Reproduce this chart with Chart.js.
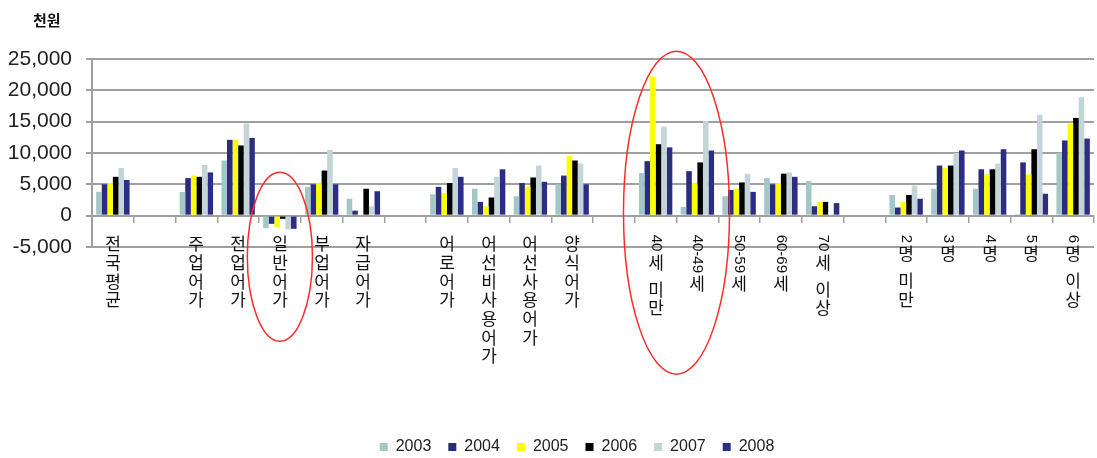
<!DOCTYPE html>
<html>
<head>
<meta charset="utf-8">
<title>어가소득 추이</title>
<script src="https://cdn.jsdelivr.net/npm/chart.js@4.4.1/dist/chart.umd.min.js"></script>
<style>
  body { margin: 0; background: #fff; }
  #wrap { width: 1097px; height: 458px; }
</style>
</head>
<body>
<div id="wrap"><canvas id="incomeChart" width="1097" height="458"></canvas></div>
<script>
'use strict';

// Global variables :
var years = ['2003', '2004', '2005', '2006', '2007', '2008'];
var categories = ['전국평균', '', '주업어가', '전업어가', '일반어가', '부업어가', '자급어가', '',
  '어로어가', '어선비사용어가', '어선사용어가', '양식어가', '',
  '40세 미만', '40-49세', '50-59세', '60-69세', '70세 이상', '',
  '2명 미만', '3명', '4명', '5명', '6명 이상'];
var yTicks = [-5000, 0, 5000, 10000, 15000, 20000, 25000];

// 천원, one value per category (null = spacer column)
var values2003 = [3800, null, 3800, 8800, -2000, 4600, 2700, null, 3400, 4300, 3100, 5000, null, 6800, 1400, 3100, 6000, 5500, null, 3300, 4300, 4300, 250, 10000];
var values2004 = [5000, null, 6000, 12100, -1300, 5000, 800, null, 4600, 2200, 5200, 6400, null, 8700, 7100, 4100, 5000, 1500, null, 1300, 8000, 7400, 8500, 12000];
var values2005 = [5200, null, 6400, 12100, -1800, 5200, 0, null, 3600, 1500, 4600, 9500, null, 22200, 5200, 4300, 5200, 2200, null, 2200, 7600, 6600, 6600, 14700];
var values2006 = [6200, null, 6200, 11200, -500, 7200, 4300, null, 5200, 2900, 6100, 8800, null, 11400, 8500, 5300, 6700, 2200, null, 3300, 8000, 7400, 10600, 15600];
var values2007 = [7600, null, 8100, 14700, -2200, 10500, 1500, null, 7600, 6200, 8000, 8300, null, 14200, 15100, 6700, 6900, 200, null, 4800, 10000, 8300, 16100, 18900];
var values2008 = [5700, null, 6900, 12400, -2100, 5000, 3900, null, 6200, 7400, 5400, 5000, null, 10900, 10400, 3800, 6200, 2000, null, 2700, 10400, 10600, 3500, 12300];

var seriesValues = [values2003, values2004, values2005, values2006, values2007, values2008];
var seriesColors = ['#a3c6c9', '#2b2b7f', '#ffff00', '#000000', '#c3d5d7', '#2d2d84'];

var gridGray = '#a0a0a0';
var cjkFont = '"Noto Sans CJK KR", "Noto Sans", sans-serif';
var numFont = '"Liberation Sans", Arial, sans-serif';

function buildDatasets() {
  var sets = [];
  for (var i = 0; i < years.length; i++) {
    sets.push({
      label: years[i],
      data: seriesValues[i],
      backgroundColor: seriesColors[i],
      borderWidth: 0,
      xAxisID: 'x',
      yAxisID: 'y'
    });
  }
  return sets;
}

// writes a label top-down: hangul upright, digit runs turned sideways
function drawVerticalLabel(ctx, text, x, top) {
  var cursor = top;
  var i = 0;
  while (i < text.length) {
    var ch = text[i];
    if (ch === ' ') {
      cursor += 8;
      i++;
      continue;
    }
    if (/[0-9\-]/.test(ch)) {
      var run = '';
      while (i < text.length && /[0-9\-]/.test(text[i])) {
        run += text[i];
        i++;
      }
      ctx.save();
      ctx.font = '15px ' + numFont;
      ctx.translate(x, cursor);
      ctx.rotate(Math.PI / 2);
      ctx.textAlign = 'left';
      ctx.textBaseline = 'middle';
      ctx.fillText(run, 0, 0);
      cursor += ctx.measureText(run).width + 2;
      ctx.restore();
      continue;
    }
    ctx.font = '17px ' + cjkFont;
    ctx.textAlign = 'center';
    ctx.textBaseline = 'middle';
    ctx.fillText(ch, x, cursor + 9);
    cursor += 18.7;
    i++;
  }
}

// legend sits a bit lower and further right than chart.js puts it
var legendShift = {
  id: 'legendShift',
  beforeInit: function(chart) {
    if (!chart.legend) return;
    var originalFit = chart.legend.fit;
    chart.legend.fit = function() {
      originalFit.bind(chart.legend)();
      this.height -= 7;
    };
  },
  afterLayout: function(chart) {
    if (chart.legend) chart.legend.left += 60;
  }
};

var labelPlugin = {
  id: 'verticalLabels',
  afterDraw: function(chart) {
    var ctx = chart.ctx;
    var xs = chart.scales.x;
    var zeroY = chart.scales.y.getPixelForValue(0);
    var catW = xs.getPixelForValue(1) - xs.getPixelForValue(0);

    ctx.save();
    ctx.fillStyle = '#111';
    for (var i = 0; i < categories.length; i++) {
      if (categories[i] === '') continue;
      drawVerticalLabel(ctx, categories[i], Math.round(xs.getPixelForValue(i)), zeroY + 19);
    }

    // unit
    ctx.font = 'bold 15px ' + cjkFont;
    ctx.textAlign = 'left';
    ctx.textBaseline = 'middle';
    ctx.fillText('천원', 33, 20);

    // red rings around 일반어가 and the young age groups
    ctx.strokeStyle = '#ff2b2b';
    ctx.lineWidth = 1.5;
    ctx.beginPath();
    ctx.ellipse(xs.getPixelForValue(4), zeroY + 41, catW * 0.78, 84.5, 0, 0, Math.PI * 2);
    ctx.stroke();
    ctx.beginPath();
    ctx.ellipse((xs.getPixelForValue(13) + xs.getPixelForValue(14)) / 2, zeroY - 3, catW * 1.27, 161.5, 0, 0, Math.PI * 2);
    ctx.stroke();
    ctx.restore();
  }
};

function drawIncomeChart() {
  var ctx = document.getElementById('incomeChart').getContext('2d');
  var incomeChart = new Chart(ctx, { //eslint-disable-line
    type: 'bar',
    data: {
      labels: categories,
      datasets: buildDatasets()
    },
    options: {
      responsive: false,
      animation: false,
      devicePixelRatio: 1,
      layout: {
        padding: { left: 0, right: 3, top: 59, bottom: 0 }
      },
      datasets: {
        bar: { barPercentage: 1, categoryPercentage: 0.8 }
      },
      plugins: {
        tooltip: { enabled: false },
        legend: {
          position: 'bottom',
          labels: {
            boxWidth: 8,
            boxHeight: 8,
            padding: 17,
            color: '#222',
            font: { family: numFont, size: 16 }
          }
        }
      },
      scales: {
        x: {
          axis: 'x',
          position: { y: 0 },
          grid: {
            display: true,
            drawOnChartArea: false,
            drawTicks: true,
            tickLength: 6,
            offset: true,
            color: gridGray,
            lineWidth: 1.5
          },
          border: { display: true, color: gridGray, width: 2 },
          ticks: { display: false }
        },
        pad: {
          axis: 'x',
          type: 'category',
          position: 'bottom',
          grid: { display: false },
          border: { display: false },
          ticks: { display: false },
          afterFit: function(scale) { scale.height = 175; }
        },
        y: {
          min: yTicks[0],
          max: yTicks[yTicks.length - 1],
          afterBuildTicks: function(scale) {
            scale.ticks = yTicks.map(function(v) { return { value: v }; });
          },
          afterFit: function(scale) { scale.width = 92; },
          grid: { color: gridGray, lineWidth: 2, tickLength: 6 },
          border: { display: true, color: gridGray, width: 2 },
          ticks: {
            padding: 14,
            color: '#222',
            font: { family: numFont, size: 21 },
            callback: function(value) { return value.toLocaleString('en-US'); }
          }
        }
      }
    },
    plugins: [legendShift, labelPlugin]
  });
}

drawIncomeChart();
</script>
</body>
</html>
